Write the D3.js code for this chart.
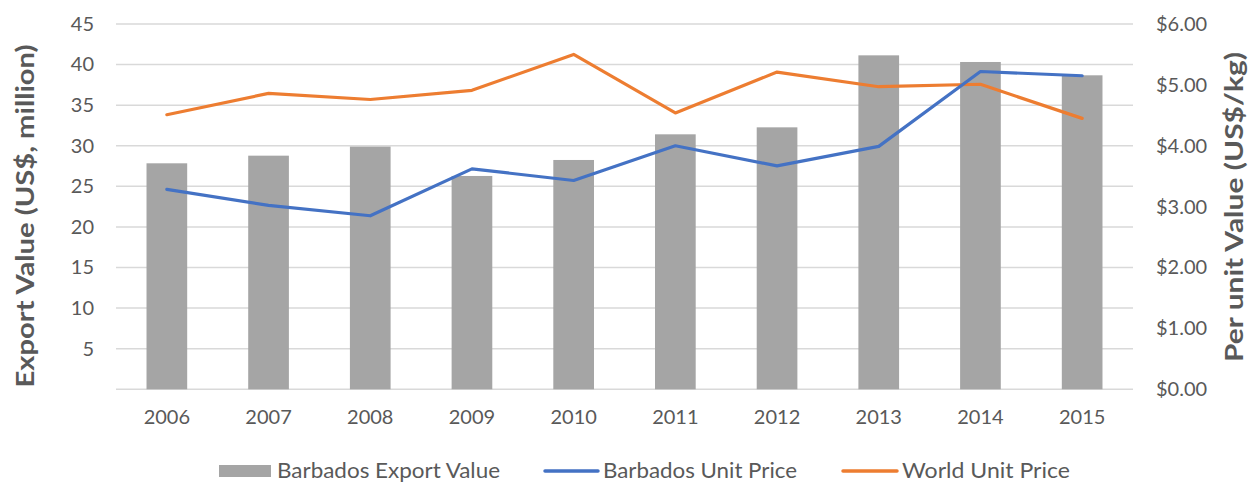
<!DOCTYPE html>
<html><head><meta charset="utf-8">
<script src="https://cdn.jsdelivr.net/npm/d3@7"></script>
<style>body{margin:0;background:#fff}svg{display:block}text{font-family:Lato,"Open Sans",sans-serif}</style>
</head><body><svg id="c" width="1252" height="483"></svg>
<script>
const years = ["2006","2007","2008","2009","2010","2011","2012","2013","2014","2015"];
const exportValue = [27.84,28.78,29.9,26.28,28.25,31.41,32.27,41.14,40.32,38.68];
const barbadosPrice = [3.285,3.02,2.85,3.62,3.43,4.0,3.67,3.99,5.22,5.15];
const worldPrice = [4.51,4.86,4.76,4.91,5.5,4.54,5.21,4.97,5.01,4.45];
const leftTicks = [5,10,15,20,25,30,35,40,45];
const rightTicks = [0,1,2,3,4,5,6];
const seriesNames = ["Barbados Export Value","Barbados Unit Price","World Unit Price"];

const svg = d3.select("#c");
const L=116, R=1133, T=24, B=389.3;
const x = d3.scaleBand().domain(years).range([L,R]).paddingInner(0.6).paddingOuter(0.3);
const yL = d3.scaleLinear().domain([0,45]).range([B,T]);
const yR = d3.scaleLinear().domain([0,6]).range([B,T]);
const txt="#595959";

// gridlines
svg.append("g").selectAll("line").data([0].concat(leftTicks)).join("line")
  .attr("x1",L).attr("x2",R).attr("y1",d=>yL(d)).attr("y2",d=>yL(d))
  .attr("stroke","#d9d9d9").attr("stroke-width",1.5);

// left axis labels
const gl = svg.append("g").attr("transform",`translate(${L},0)`)
  .call(d3.axisLeft(yL).tickValues(leftTicks).tickSize(0).tickPadding(22));
gl.select(".domain").remove();
gl.selectAll("text").attr("fill",txt).style("font-size","20px").style("font-family","Lato");

// right axis labels
const gr = svg.append("g").attr("transform",`translate(${R},0)`)
  .call(d3.axisRight(yR).tickValues(rightTicks).tickSize(0).tickPadding(23).tickFormat(d=>"$"+d.toFixed(2)));
gr.select(".domain").remove();
gr.selectAll("text").attr("fill",txt).style("font-size","20px").style("font-family","Lato");

// x axis labels
const gx = svg.append("g").attr("transform",`translate(0,${B})`)
  .call(d3.axisBottom(x).tickSize(0).tickPadding(21));
gx.select(".domain").remove();
gx.selectAll("text").attr("fill",txt).style("font-size","20px").style("font-family","Lato");

// bars
svg.append("g").selectAll("rect").data(years).join("rect")
  .attr("x",d=>x(d)).attr("width",x.bandwidth())
  .attr("y",(d,i)=>yL(exportValue[i])).attr("height",(d,i)=>B-yL(exportValue[i]))
  .attr("fill","#a5a5a5");

const cx = d=>x(d)+x.bandwidth()/2;
const line = arr => d3.line().x(d=>cx(d)).y((d,i)=>yR(arr[i]))(years);
svg.append("path").attr("d",line(worldPrice)).attr("fill","none").attr("stroke","#ed7d31").attr("stroke-width",3.2).attr("stroke-linejoin","round").attr("stroke-linecap","round");
svg.append("path").attr("d",line(barbadosPrice)).attr("fill","none").attr("stroke","#4472c4").attr("stroke-width",3.2).attr("stroke-linejoin","round").attr("stroke-linecap","round");

// axis titles
svg.append("text").attr("transform",`translate(34,216) rotate(-90)`)
  .attr("text-anchor","middle").attr("fill",txt).style("font-size","25px").style("font-weight","bold")
  .attr("textLength",343).attr("lengthAdjust","spacingAndGlyphs")
  .text("Export Value (US$, million)");
svg.append("text").attr("transform",`translate(1243,207) rotate(-90)`)
  .attr("text-anchor","middle").attr("fill",txt).style("font-size","25px").style("font-weight","bold")
  .attr("textLength",310).attr("lengthAdjust","spacingAndGlyphs")
  .text("Per unit Value (US$/kg)");

// legend
const lg = svg.append("g");
const ly = 471;
function ltext(xp, s, len){
  lg.append("text").attr("x",xp).attr("y",ly+7).attr("fill",txt).style("font-size","21px")
    .attr("textLength",len).attr("lengthAdjust","spacingAndGlyphs").text(s);
}
lg.append("rect").attr("x",219).attr("y",ly-6).attr("width",52).attr("height",12).attr("fill","#a5a5a5");
ltext(277, seriesNames[0], 223);
lg.append("line").attr("x1",545).attr("x2",598).attr("y1",ly).attr("y2",ly).attr("stroke","#4472c4").attr("stroke-width",3.5).attr("stroke-linecap","round");
ltext(603, seriesNames[1], 194);
lg.append("line").attr("x1",843).attr("x2",897).attr("y1",ly).attr("y2",ly).attr("stroke","#ed7d31").attr("stroke-width",3.5).attr("stroke-linecap","round");
ltext(902, seriesNames[2], 168);
</script></body></html>
